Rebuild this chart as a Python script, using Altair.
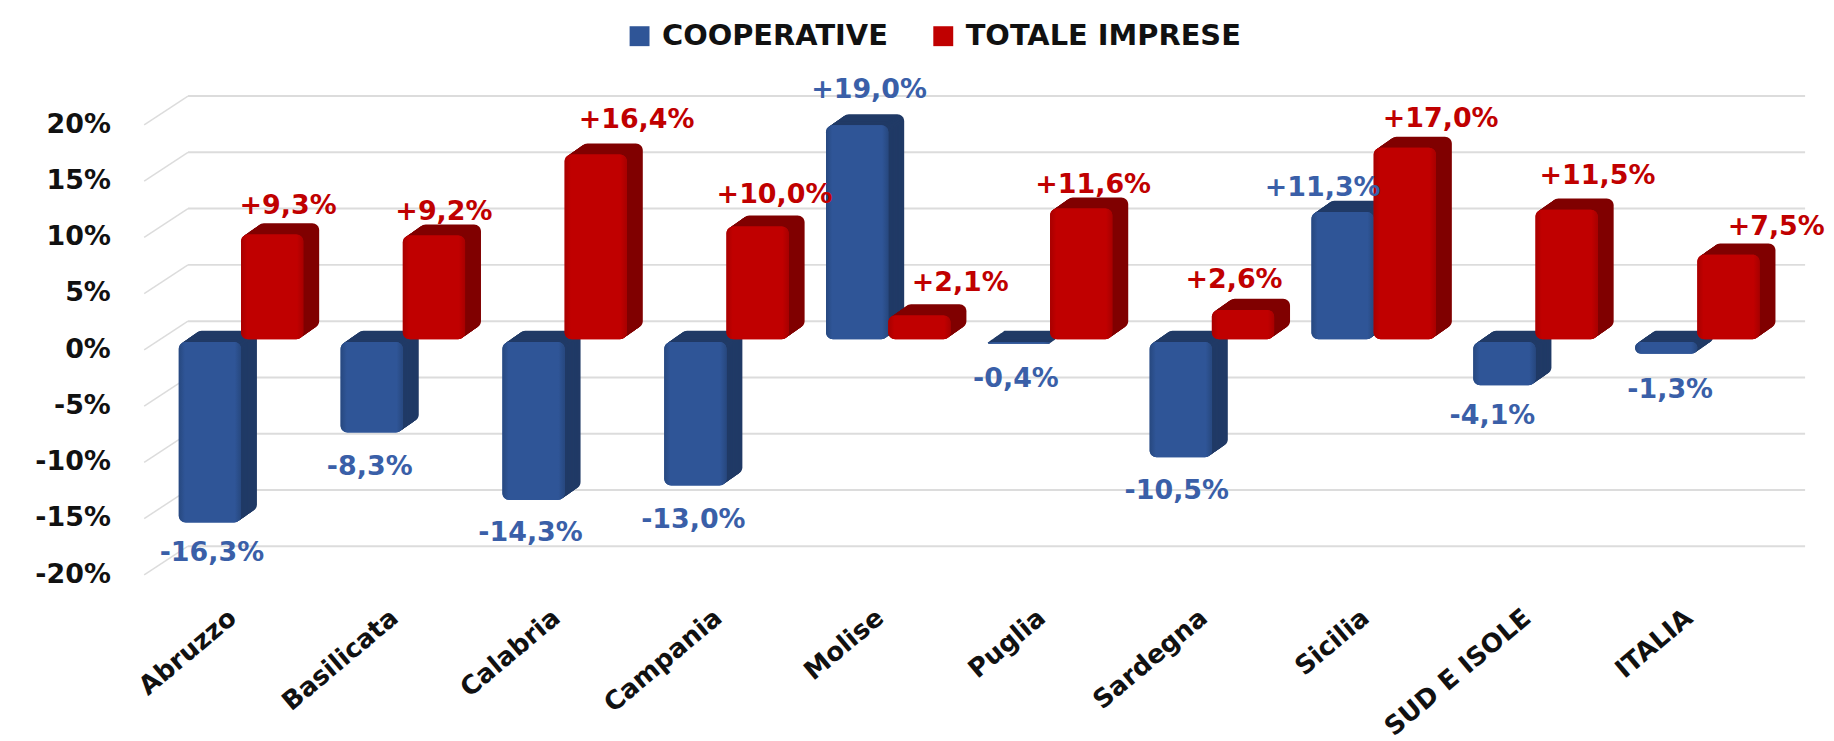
import altair as alt
import pandas as pd

REGIONS = ["Abruzzo", "Basilicata", "Calabria", "Campania", "Molise", "Puglia",
           "Sardegna", "Sicilia", "SUD E ISOLE", "ITALIA"]
COOPERATIVE = [-16.3, -8.3, -14.3, -13.0, 19.0, -0.4, -10.5, 11.3, -4.1, -1.3]
TOTALE = [9.3, 9.2, 16.4, 10.0, 2.1, 11.6, 2.6, 17.0, 11.5, 7.5]
GRID = [-20, -15, -10, -5, 0, 5, 10, 15, 20]
SERIES = ["COOPERATIVE", "TOTALE IMPRESE"]

# Hand placement of each data label relative to its bar end (dx, dy), as in the source
BLUE_NUDGE = [(2, 31), (-2, 35), (-3, 33), (-2, 35), (12, -35), (-3, 36), (-4, 34), (-20, -24), (-12, 31), (4, 36)]
RED_NUDGE = [(16, -29), (10, -24), (41, -35), (17, -32), (41, -33), (12, -24), (-9, -30), (36, -29), (31, -34), (48, -28)]

FONT = "DejaVu Sans"
BLUE, BLUE_DARK, BLUE_EDGE = "#2f5597", "#203a66", "#27487f"
RED, RED_DARK, RED_EDGE = "#c00000", "#800000", "#a80000"
BAND = 125

rows = []
for i, r in enumerate(REGIONS):
    rows.append({"region": r, "series": SERIES[0], "value": COOPERATIVE[i]})
    rows.append({"region": r, "series": SERIES[1], "value": TOTALE[i]})
df = pd.DataFrame(rows)
df["label"] = df["value"].map(lambda v: f"{v:+.1f}%".replace(".", ","))
grid_df = pd.DataFrame({"g": GRID})

W, H = 1625, 540
y_scale = alt.Scale(domain=[-23.10, 24.69], nice=False, zero=False)
x_enc = alt.X("region:N", sort=REGIONS, title=None,
              scale=alt.Scale(domain=REGIONS, paddingInner=0.2308, paddingOuter=0.1154),
              axis=alt.Axis(labelAngle=-40, labelAlign="right", labelBaseline="middle",
                            labelFont=FONT, labelFontWeight="bold", labelFontSize=26,
                            labelColor="#111111", domain=False, ticks=False, labelPadding=15,
                            labelOffset=-8, labelOverlap=False, labelLimit=300))
y_enc = alt.Y("value:Q", scale=y_scale, title=None,
              axis=alt.Axis(values=GRID, labelExpr="datum.value + '%'", domain=False, ticks=False,
                            grid=False, labelFont=FONT, labelFontWeight="bold", labelFontSize=27,
                            labelColor="#111111", labelPadding=50, labelOffset=10))


def xo(shift=0):
    return alt.XOffset("series:N", scale=alt.Scale(domain=SERIES, range=[shift, BAND + shift],
                                                   paddingInner=0, paddingOuter=0))


text_xo = alt.XOffset("series:N", scale=alt.Scale(domain=SERIES, range=[BAND / 4, 3 * BAND / 4],
                                                  paddingInner=0, paddingOuter=0))

grid_back = (alt.Chart(grid_df).transform_calculate(back="datum.g + 1.6")
             .mark_rule(color="#dcdcdc", strokeWidth=2)
             .encode(y=alt.Y("back:Q", scale=y_scale), x=alt.value(28), x2=alt.value(1652)))
grid_diag = (alt.Chart(grid_df).transform_calculate(back="datum.g + 1.6", front="datum.g - 0.95")
             .mark_rule(color="#dcdcdc", strokeWidth=1.5)
             .encode(y=alt.Y("front:Q", scale=y_scale), y2="back:Q", x=alt.value(-16), x2=alt.value(28)))

base = alt.Chart(df).transform_calculate(base="datum.value < 0 ? -0.25 : 0")


def bar_layers(series, dark, edge, main):
    out = []
    sel = base.transform_filter(alt.datum.series == series)
    for k in range(16, 0, -1):
        dy = -0.7 * k
        out.append(sel.mark_bar(color=dark, cornerRadius=7, yOffset=dy, y2Offset=dy)
                   .encode(x=x_enc, xOffset=xo(k), y=y_enc, y2="base:Q"))
    out.append(sel.mark_bar(cornerRadius=7)
               .encode(x=x_enc, xOffset=xo(), y=y_enc, y2="base:Q",
                       color=alt.Color("series:N",
                                       scale=alt.Scale(domain=SERIES, range=[BLUE, RED]),
                                       legend=alt.Legend(
                                           orient="none", legendX=467, legendY=-40, direction="horizontal",
                                           title=None, symbolType="square", symbolSize=400,
                                           symbolStrokeWidth=0, labelFont=FONT, labelFontWeight="bold",
                                           labelFontSize=29, labelColor="#111111", columns=2,
                                           columnPadding=40, labelLimit=400, labelOffset=8))))
    gradient = alt.Gradient(gradient="linear", x1=0, x2=1, y1=0, y2=0, stops=[
        alt.GradientStop(offset=0, color=edge),
        alt.GradientStop(offset=0.1, color=main),
        alt.GradientStop(offset=0.9, color=main),
        alt.GradientStop(offset=1, color=edge),
    ])
    out.append(sel.mark_bar(cornerRadius=7, color=gradient)
               .encode(x=x_enc, xOffset=xo(), y=y_enc, y2="base:Q"))
    return out


def label_layers(series, nudges, color):
    out = []
    for region, (dx, dy) in zip(REGIONS, nudges):
        out.append(alt.Chart(df[(df.series == series) & (df.region == region)])
                   .mark_text(font=FONT, fontWeight="bold", fontSize=27, color=color, dx=dx, dy=dy)
                   .encode(x=x_enc, xOffset=text_xo, y=y_enc, text="label:N"))
    return out


layers = [grid_back, grid_diag]
layers += bar_layers(SERIES[0], BLUE_DARK, BLUE_EDGE, BLUE)
layers += bar_layers(SERIES[1], RED_DARK, RED_EDGE, RED)
layers += label_layers(SERIES[0], BLUE_NUDGE, "#3a5fa8")
layers += label_layers(SERIES[1], RED_NUDGE, "#c00000")

chart = (alt.layer(*layers)
         .resolve_scale(xOffset="independent")
         .properties(width=W, height=H,
                     padding={"left": 152.75, "top": 52, "right": 48, "bottom": 141},
                     autosize=alt.AutoSizeParams(type="none"),
                     background="white")
         .configure_view(stroke=None))

chart.save("out.html", embed_options={"renderer": "svg", "actions": False})
